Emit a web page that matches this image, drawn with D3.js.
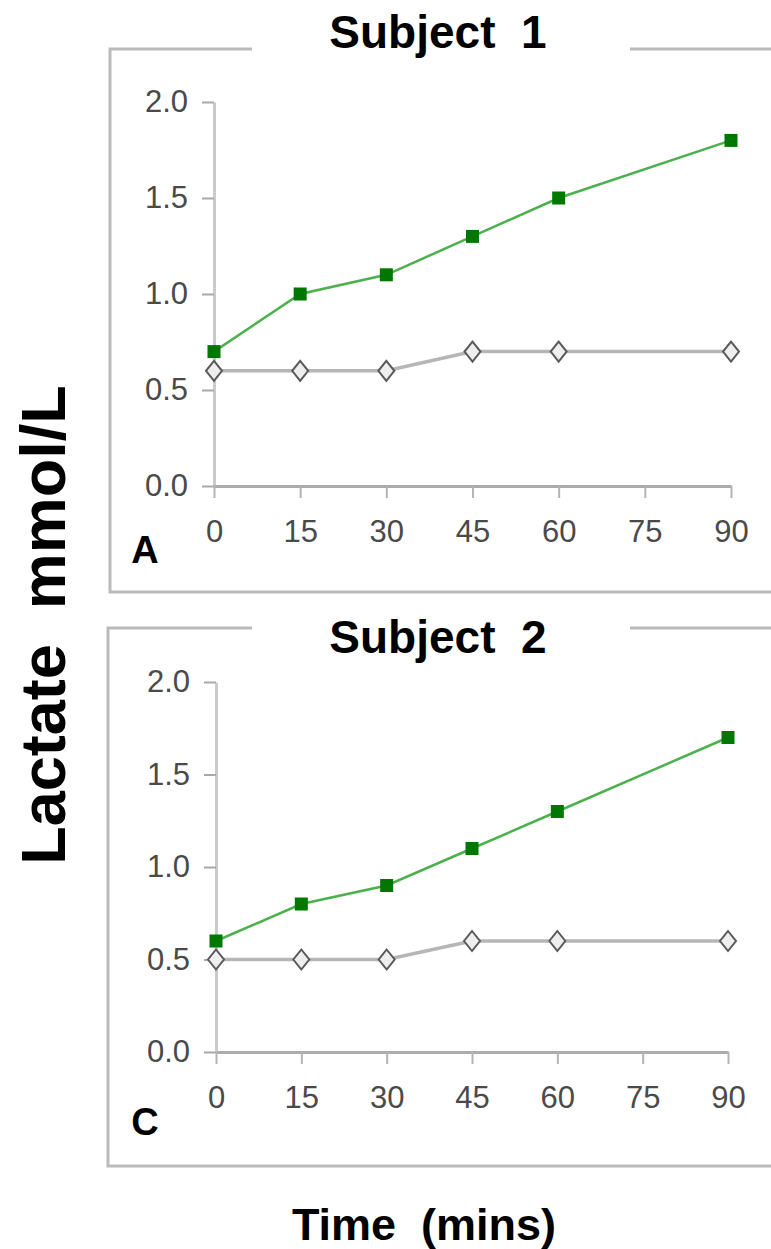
<!DOCTYPE html>
<html>
<head>
<meta charset="utf-8">
<script src="https://cdn.jsdelivr.net/npm/d3@7"></script>
<style>
  html, body { margin: 0; padding: 0; background: #fff; }
  svg { display: block; font-family: "Liberation Sans", Arial, sans-serif; }
  text.keep-spaces { white-space: pre; }
</style>
</head>
<body>
<svg id="chart" width="771" height="1249"></svg>
<script>
// Sampling times (minutes) and axis ticks
const times = [0, 15, 30, 45, 60, 90];
const xTicks = [0, 15, 30, 45, 60, 75, 90];
const yTicks = [0, 0.5, 1.0, 1.5, 2.0];

// Blood lactate (mmol/L): exercise condition (green squares) and control (open diamonds)
const subject1Exercise = [0.7, 1.0, 1.1, 1.3, 1.5, 1.8];
const subject1Control  = [0.6, 0.6, 0.6, 0.7, 0.7, 0.7];
const subject2Exercise = [0.6, 0.8, 0.9, 1.1, 1.3, 1.7];
const subject2Control  = [0.5, 0.5, 0.5, 0.6, 0.6, 0.6];

const panelTitles  = ["Subject  1", "Subject  2"];
const panelLetters = ["A", "C"];
const yAxisTitle = "Lactate  mmol/L";
const xAxisTitle = "Time  (mins)";

const svg = d3.select("#chart");

// Layout of each framed panel
const panels = [
  { title: panelTitles[0], letter: panelLetters[0], exercise: subject1Exercise, control: subject1Control,
    frame: { left: 110, top: 49, bottom: 592, gapL: 252, gapR: 630 }, titleY: 48,
    x0: 214, x1: 731, y0: 486, y1: 102, letterY: 563 },
  { title: panelTitles[1], letter: panelLetters[1], exercise: subject2Exercise, control: subject2Control,
    frame: { left: 108, top: 628, bottom: 1166, gapL: 252, gapR: 630 }, titleY: 653,
    x0: 216, x1: 728, y0: 1052, y1: 682, letterY: 1135 }
];

const diamond = (hw, hh) => `M0,${-hh}L${hw},0L0,${hh}L${-hw},0Z`;

panels.forEach(p => {
  const g = svg.append("g");

  // Frame with a break in the top edge for the title
  const f = p.frame;
  const frameColor = "#bababa";
  g.append("path")
    .attr("d", `M${f.gapL},${f.top}H${f.left}V${f.bottom}H${790}`)
    .attr("fill", "none").attr("stroke", frameColor).attr("stroke-width", 3);
  g.append("path")
    .attr("d", `M${f.gapR},${f.top}H${790}`)
    .attr("fill", "none").attr("stroke", frameColor).attr("stroke-width", 3);

  g.append("text")
    .attr("class", "keep-spaces")
    .attr("x", 438).attr("y", p.titleY)
    .attr("text-anchor", "middle")
    .attr("font-size", 46).attr("font-weight", "bold").attr("fill", "#000")
    .text(p.title);

  const x = d3.scaleLinear().domain([0, 90]).range([p.x0, p.x1]);
  const y = d3.scaleLinear().domain([0, 2]).range([p.y0, p.y1]);

  // Y axis
  const yAxis = g.append("g")
    .attr("transform", `translate(${p.x0},0)`)
    .call(d3.axisLeft(y).tickValues(yTicks).tickFormat(d3.format(".1f"))
      .tickSize(12).tickSizeOuter(0).tickPadding(14));
  yAxis.select(".domain").attr("stroke", "#cacaca").attr("stroke-width", 3);
  yAxis.selectAll(".tick line").attr("stroke", "#a8a8a8").attr("stroke-width", 2);
  yAxis.selectAll(".tick text")
    .attr("font-size", 31).attr("fill", "#4a4a4a")
    .attr("font-family", "'Liberation Sans', Arial, sans-serif");

  // X axis
  const xAxis = g.append("g")
    .attr("transform", `translate(0,${p.y0})`)
    .call(d3.axisBottom(x).tickValues(xTicks).tickFormat(d3.format("d"))
      .tickSize(12).tickSizeOuter(0).tickPadding(22));
  xAxis.select(".domain").attr("stroke", "#acacac").attr("stroke-width", 3);
  xAxis.selectAll(".tick line").attr("stroke", "#b4b4b4").attr("stroke-width", 2);
  xAxis.selectAll(".tick text")
    .attr("font-size", 31).attr("fill", "#4a4a4a")
    .attr("font-family", "'Liberation Sans', Arial, sans-serif");

  const line = d3.line().x((d, i) => x(times[i])).y(d => y(d));

  // Control series: grey line with open diamonds
  g.append("path").datum(p.control)
    .attr("d", line).attr("fill", "none")
    .attr("stroke", "#b6b6b6").attr("stroke-width", 3.5);
  g.selectAll(".ctrl").data(p.control).join("path")
    .attr("class", "ctrl")
    .attr("transform", (d, i) => `translate(${x(times[i])},${y(d)})`)
    .attr("d", diamond(8, 10))
    .attr("fill", "#eeeeee").attr("stroke", "#595959").attr("stroke-width", 2);

  // Exercise series: green line with filled squares
  g.append("path").datum(p.exercise)
    .attr("d", line).attr("fill", "none")
    .attr("stroke", "#4cb04c").attr("stroke-width", 2.5);
  g.selectAll(".ex").data(p.exercise).join("rect")
    .attr("class", "ex")
    .attr("x", (d, i) => x(times[i]) - 6.5).attr("y", d => y(d) - 6.5)
    .attr("width", 13).attr("height", 13)
    .attr("fill", "#007800");

  // Panel letter
  g.append("text")
    .attr("x", 145).attr("y", p.letterY)
    .attr("text-anchor", "middle")
    .attr("font-size", 38).attr("font-weight", "bold").attr("fill", "#000")
    .text(p.letter);
});

// Shared axis titles
svg.append("text")
  .attr("class", "keep-spaces")
  .attr("transform", "translate(65,625) rotate(-90)")
  .attr("text-anchor", "middle")
  .attr("font-size", 63).attr("font-weight", "bold").attr("fill", "#000")
  .text(yAxisTitle);

svg.append("text")
  .attr("class", "keep-spaces")
  .attr("x", 424).attr("y", 1240)
  .attr("text-anchor", "middle")
  .attr("font-size", 45).attr("font-weight", "bold").attr("fill", "#000")
  .text(xAxisTitle);
</script>
</body>
</html>
